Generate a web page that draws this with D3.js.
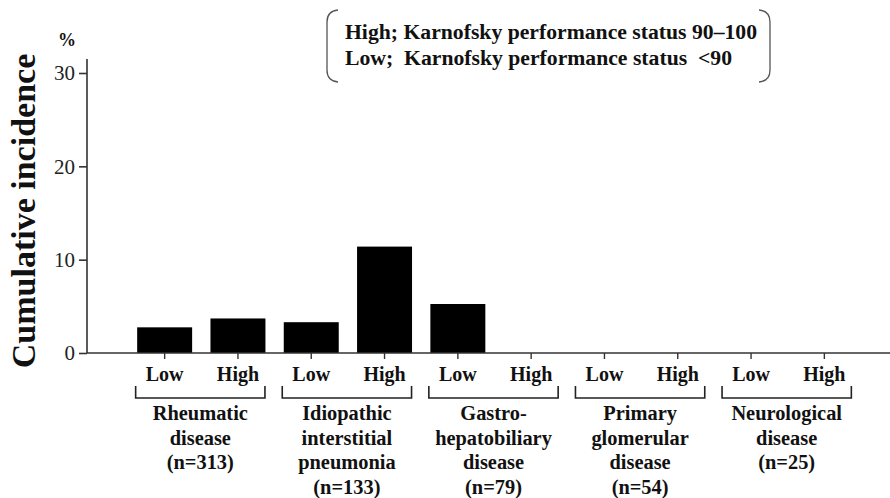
<!DOCTYPE html>
<html>
<head>
<meta charset="utf-8">
<script src="https://cdn.jsdelivr.net/npm/d3@7"></script>
</head>
<body>
<div id="chart"></div>
<script>
/* global d3 */
(function() {
    // disease groups, each label split into lines as printed
    const groupLabels = [
        ["Rheumatic", "disease", "(n=313)"],
        ["Idiopathic", "interstitial", "pneumonia", "(n=133)"],
        ["Gastro-", "hepatobiliary", "disease", "(n=79)"],
        ["Primary", "glomerular", "disease", "(n=54)"],
        ["Neurological", "disease", "(n=25)"]
    ];
    const levels = ["Low", "High"];
    const lowValues = [2.75, 3.3, 5.25, 0, 0];
    const highValues = [3.7, 11.4, 0, 0, 0];
    const yTicks = [0, 10, 20, 30];
    const legendLines = [
        "High; Karnofsky performance status 90\u2013100",
        "Low;  Karnofsky performance status  <90"
    ];

    const width = 890, height = 498;
    const serif = "Liberation Serif";

    const data = [];
    groupLabels.forEach((g, i) => {
        levels.forEach(lv => {
            data.push({ key: i + "-" + lv, group: i, level: lv, value: lv === "Low" ? lowValues[i] : highValues[i] });
        });
    });

    const x = d3.scaleBand()
        .domain(data.map(d => d.key))
        .range([128, 861])
        .paddingInner(0.25)
        .paddingOuter(0.125);

    const y = d3.scaleLinear()
        .domain([0, 30])
        .range([353, 73]);

    d3.select("body").style("margin", "0");

    const svg = d3.select("#chart")
        .append("svg")
        .attr("width", width)
        .attr("height", height)
        .style("display", "block");

    // bars
    svg.append("g")
        .selectAll("rect")
        .data(data)
        .join("rect")
        .attr("x", d => x(d.key))
        .attr("y", d => y(d.value))
        .attr("width", x.bandwidth())
        .attr("height", d => y(0) - y(d.value))
        .attr("fill", "#000");

    // y axis
    const yAxis = svg.append("g")
        .attr("transform", "translate(87,0)")
        .call(d3.axisLeft(y).tickValues(yTicks).tickSize(8).tickSizeOuter(0).tickPadding(4))
        .attr("font-family", serif)
        .attr("font-size", 21);
    yAxis.select(".domain").attr("d", "M0,59V" + y(0)).attr("stroke", "#333").attr("stroke-width", 1.6);
    yAxis.selectAll(".tick line").attr("stroke", "#333").attr("stroke-width", 1.6);
    yAxis.selectAll(".tick text").attr("fill", "#222");

    // x axis line with ticks
    const xAxis = svg.append("g")
        .attr("transform", "translate(0," + y(0) + ")")
        .call(d3.axisBottom(x).tickSize(-6).tickSizeOuter(0).tickFormat(d => d.split("-")[1]).tickPadding(0))
        .attr("font-family", serif)
        .attr("font-size", 20)
        .attr("font-weight", "bold");
    xAxis.select(".domain").attr("d", "M87,0H890").attr("stroke", "#333").attr("stroke-width", 1.6);
    xAxis.selectAll(".tick line").attr("y1", 0).attr("y2", 6).attr("stroke", "#333").attr("stroke-width", 1.4);
    xAxis.selectAll(".tick text")
        .attr("y", 28)
        .attr("dy", 0)
        .attr("fill", "#111");

    // group brackets and labels
    const groupG = svg.append("g")
        .selectAll("g")
        .data(groupLabels)
        .join("g");

    groupG.append("path")
        .attr("d", (d, i) => {
            const x0 = x(i + "-Low") + x.bandwidth() / 2 - 29;
            const x1 = x(i + "-High") + x.bandwidth() / 2 + 27;
            return "M" + x0 + ",386V398H" + x1 + "V386";
        })
        .attr("fill", "none")
        .attr("stroke", "#222")
        .attr("stroke-width", 1.6);

    groupG.append("text")
        .attr("x", (d, i) => (x(i + "-Low") + x(i + "-High") + x.bandwidth()) / 2 - 1)
        .attr("y", 420)
        .attr("text-anchor", "middle")
        .attr("font-family", serif)
        .attr("font-size", 20.4)
        .attr("font-weight", "bold")
        .attr("fill", "#111")
        .selectAll("tspan")
        .data(d => d)
        .join("tspan")
        .attr("x", function() { return this.parentNode.getAttribute("x"); })
        .attr("dy", (d, i) => i === 0 ? 0 : 24.5)
        .text(d => d);

    // y title and unit
    svg.append("text")
        .attr("transform", "translate(35,211) rotate(-90)")
        .attr("text-anchor", "middle")
        .attr("font-family", serif)
        .attr("font-size", 34)
        .attr("font-weight", "bold")
        .attr("fill", "#111")
        .text("Cumulative incidence");

    svg.append("text")
        .attr("x", 67)
        .attr("y", 46)
        .attr("text-anchor", "middle")
        .attr("font-family", serif)
        .attr("font-size", 18)
        .attr("font-weight", "bold")
        .attr("fill", "#111")
        .text("%");

    // legend in round brackets
    const legend = svg.append("g");
    legend.append("path")
        .attr("d", "M338,10 Q327,11 327,22 V70 Q327,81 338,82")
        .attr("fill", "none")
        .attr("stroke", "#555")
        .attr("stroke-width", 1.3);
    legend.append("path")
        .attr("d", "M759,10 Q770,11 770,22 V70 Q770,81 759,82")
        .attr("fill", "none")
        .attr("stroke", "#555")
        .attr("stroke-width", 1.3);
    legend.selectAll("text")
        .data(legendLines)
        .join("text")
        .attr("x", 345)
        .attr("y", (d, i) => 39 + i * 26)
        .attr("font-family", serif)
        .attr("font-size", 21.7)
        .attr("font-weight", "bold")
        .attr("fill", "#111")
        .style("white-space", "pre")
        .text(d => d);
})();
</script>
</body>
</html>
